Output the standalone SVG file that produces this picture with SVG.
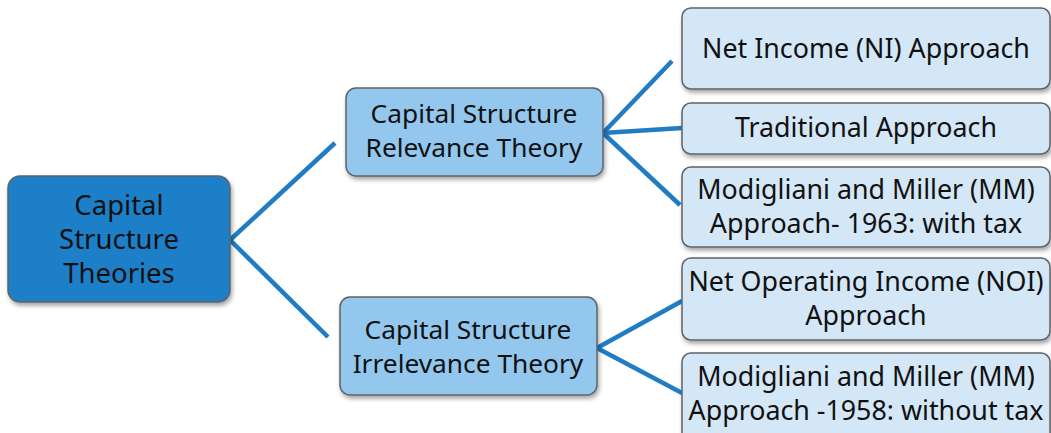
<svg xmlns="http://www.w3.org/2000/svg" width="1051" height="433" viewBox="0 0 1051 433">
<defs>
<filter id="sh" x="-10%" y="-10%" width="125%" height="130%">
<feDropShadow dx="1.5" dy="3" stdDeviation="2" flood-color="#000" flood-opacity="0.35"/>
</filter>
</defs>
<style>
.box{stroke:#5f6368;stroke-width:1.5;filter:url(#sh)}
.l1{fill:#1f7fc7}
.l2{fill:#93c7ed}
.l3{fill:#d4e7f7}
.t{font-family:"Noto Sans","Open Sans","Liberation Sans",sans-serif;font-size:26.8px;fill:#111;text-anchor:middle}
.t1{font-size:27.5px}
.t2{font-size:26.3px}
.c{stroke:#1f7cc5;stroke-width:4.5;fill:none;stroke-linecap:butt}
</style>
<rect width="1051" height="433" fill="#fff"/>
<g id="connectors">
<line class="c" x1="230" y1="240" x2="335" y2="143"/>
<line class="c" x1="230" y1="240" x2="328" y2="337"/>
<line class="c" x1="603" y1="133" x2="672" y2="61"/>
<line class="c" x1="603" y1="133" x2="682" y2="128"/>
<line class="c" x1="603" y1="133" x2="680" y2="205"/>
<line class="c" x1="597" y1="348" x2="682" y2="301"/>
<line class="c" x1="597" y1="348" x2="682" y2="393"/>
</g>
<g id="root">
<rect class="box l1" x="8" y="176" width="222" height="126" rx="12"/>
<text class="t t1"><tspan x="119" y="215">Capital</tspan><tspan x="119" y="249">Structure</tspan><tspan x="119" y="283">Theories</tspan></text>
</g>
<g id="relevance">
<rect class="box l2" x="346" y="88" width="257" height="88" rx="10"/>
<text class="t t2"><tspan x="474" y="123">Capital Structure</tspan><tspan x="474" y="157">Relevance Theory</tspan></text>
</g>
<g id="irrelevance">
<rect class="box l2" x="340" y="297" width="257" height="98" rx="10"/>
<text class="t t2"><tspan x="468" y="339">Capital Structure</tspan><tspan x="468" y="373">Irrelevance Theory</tspan></text>
</g>
<g id="ni">
<rect class="box l3" x="682" y="8" width="368" height="81" rx="9"/>
<text class="t" x="866" y="58">Net Income (NI) Approach</text>
</g>
<g id="traditional">
<rect class="box l3" x="682" y="103" width="368" height="51" rx="9"/>
<text class="t" x="866" y="137">Traditional Approach</text>
</g>
<g id="mm1963">
<rect class="box l3" x="682" y="167" width="368" height="80" rx="9"/>
<text class="t"><tspan x="866" y="199">Modigliani and Miller (MM)</tspan><tspan x="866" y="233">Approach- 1963: with tax</tspan></text>
</g>
<g id="noi">
<rect class="box l3" x="682" y="258" width="368" height="82" rx="9"/>
<text class="t"><tspan x="866" y="291">Net Operating Income (NOI)</tspan><tspan x="866" y="325">Approach</tspan></text>
</g>
<g id="mm1958">
<rect class="box l3" x="682" y="353" width="368" height="95" rx="9"/>
<text class="t"><tspan x="866" y="386">Modigliani and Miller (MM)</tspan><tspan x="866" y="420">Approach -1958: without tax</tspan></text>
</g>
</svg>
